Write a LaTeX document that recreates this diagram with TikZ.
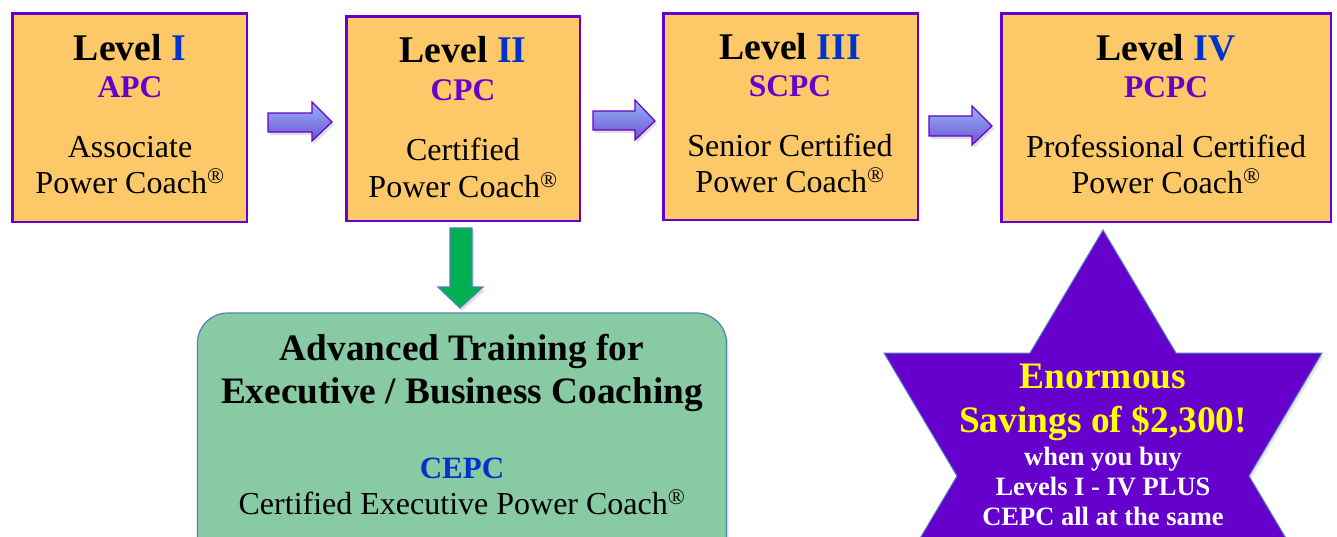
\documentclass[tikz,border=0pt]{standalone}
\usepackage{fontspec}
\setmainfont{Liberation Serif}
\usetikzlibrary{shadows}
\definecolor{boxfill}{RGB}{253,201,104}
\definecolor{purp}{RGB}{102,0,204}
\definecolor{lvlblue}{RGB}{0,51,204}
\definecolor{greenfill}{RGB}{135,202,164}
\definecolor{edgeblue}{RGB}{79,129,189}
\definecolor{arrgreen}{RGB}{0,176,80}
\definecolor{arrtop}{RGB}{150,182,246}
\definecolor{arrbot}{RGB}{108,82,212}
\definecolor{starfill}{RGB}{102,0,204}
\definecolor{staryellow}{RGB}{255,255,0}
\begin{document}
\begin{tikzpicture}[x=1pt,y=-1pt,
  lbox/.style={draw=purp, line width=2.5pt, fill=boxfill, inner sep=0pt},
  lvl/.style={anchor=base, inner sep=0pt, font=\fontsize{37.7}{40}\selectfont\bfseries},
  abbr/.style={anchor=base, inner sep=0pt, font=\fontsize{31.5}{34}\selectfont\bfseries, text=purp},
  desc/.style={anchor=base, inner sep=0pt, font=\fontsize{32}{34}\selectfont},
  parrow/.style={draw=purp, line width=1.2pt, top color=arrtop, bottom color=arrbot,
    drop shadow={opacity=0.25, shadow xshift=2pt, shadow yshift=-3pt}},
  garrow/.style={draw=edgeblue, line width=1.2pt, fill=arrgreen,
    drop shadow={opacity=0.25, shadow xshift=2pt, shadow yshift=-3pt}},
  gbox/.style={draw=edgeblue, line width=1.2pt, fill=greenfill, rounded corners=30pt, inner sep=0pt,
    drop shadow={opacity=0.2, shadow xshift=2pt, shadow yshift=-3pt}},
  gtitle/.style={anchor=base, inner sep=0pt, font=\fontsize{37.3}{40}\selectfont\bfseries},
  startxt/.style={anchor=base, inner sep=0pt, font=\fontsize{37.4}{40}\selectfont\bfseries, text=staryellow},
  starsmall/.style={anchor=base, inner sep=0pt, font=\fontsize{26.5}{28}\selectfont\bfseries, text=white},
  starshape/.style={draw=edgeblue, line width=1pt, fill=starfill,
    drop shadow={opacity=0.2, shadow xshift=2pt, shadow yshift=-3pt}}
]
\useasboundingbox (0,0) rectangle (1337,536);
\clip (0,0) rectangle (1337,536);

% level boxes
\node[lbox, minimum width=234.5, minimum height=208.5] (b1) at (129.5,117.5) {};
\node[lbox, minimum width=233.5, minimum height=204.5] (b2) at (463,118.5) {};
\node[lbox, minimum width=254.5, minimum height=206.5] (b3) at (790.5,116.5) {};
\node[lbox, minimum width=329.5, minimum height=208.5] (b4) at (1166,117.5) {};

% box 1
\node[lvl]  (l1) at (130,60)  {Level \textcolor{lvlblue}{I}};
\node[abbr] (a1) at (130,97)  {APC};
\node[desc] (d1a) at (130,157) {Associate};
\node[desc] (d1b) at (130,193) {Power Coach\textsuperscript{\textregistered}};
% box 2
\node[lvl]  (l2) at (463,62)  {Level \textcolor{lvlblue}{II}};
\node[abbr] (a2) at (463,100) {CPC};
\node[desc] (d2a) at (463,160) {Certified};
\node[desc] (d2b) at (463,197) {Power Coach\textsuperscript{\textregistered}};
% box 3
\node[lvl]  (l3) at (790,59)  {Level \textcolor{lvlblue}{III}};
\node[abbr] (a3) at (790,96)  {SCPC};
\node[desc] (d3a) at (790,156) {Senior Certified};
\node[desc] (d3b) at (790,192) {Power Coach\textsuperscript{\textregistered}};
% box 4
\node[lvl]  (l4) at (1166,60)  {Level \textcolor{lvlblue}{IV}};
\node[abbr] (a4) at (1166,97)  {PCPC};
\node[desc] (d4a) at (1166,157) {Professional Certified};
\node[desc] (d4b) at (1166,193) {Power Coach\textsuperscript{\textregistered}};

% block arrows between boxes
\draw[parrow] (268,113) -- (312,113) -- (312,102) -- (332,122) -- (312,141) -- (312,132) -- (268,132) -- cycle;
\draw[parrow] (593,111) -- (635,111) -- (635,100) -- (655,121) -- (635,140) -- (635,130) -- (593,130) -- cycle;
\draw[parrow] (929,116) -- (972,116) -- (972,106) -- (992,126) -- (972,145) -- (972,136) -- (929,136) -- cycle;

% green down arrow
\draw[garrow] (450,228) -- (472,228) -- (472,287) -- (483,287) -- (460,308) -- (438,287) -- (450,287) -- cycle;

% green box
\node[gbox, minimum width=529, minimum height=267] (g) at (462,446.5) {};
\node[gtitle] (g1) at (462,360) {Advanced Training for};
\node[gtitle] (g2) at (462,403) {Executive / Business Coaching};
\node[anchor=base, inner sep=0pt, font=\fontsize{31}{34}\selectfont\bfseries, text=lvlblue] (g3) at (462,478) {CEPC};
\node[anchor=base, inner sep=0pt, font=\fontsize{32}{35}\selectfont] (g4) at (462,514) {Certified Executive Power Coach\textsuperscript{\textregistered}};

% star
\draw[starshape] (1103,230) -- (1176,353) -- (1322,353) -- (1249,476) -- (1322,599) -- (1176,599)
  -- (1103,722) -- (1030,599) -- (884,599) -- (957,476) -- (884,353) -- (1030,353) -- cycle;
\node[startxt] (s1) at (1103,388) {Enormous};
\node[startxt] (s2) at (1103,432) {Savings of \$2,300!};
\node[starsmall] (s3) at (1103,465) {when you buy};
\node[starsmall] (s4) at (1103,495) {Levels I - IV PLUS};
\node[starsmall] (s5) at (1103,525) {CEPC all at the same};
\end{tikzpicture}
\end{document}
